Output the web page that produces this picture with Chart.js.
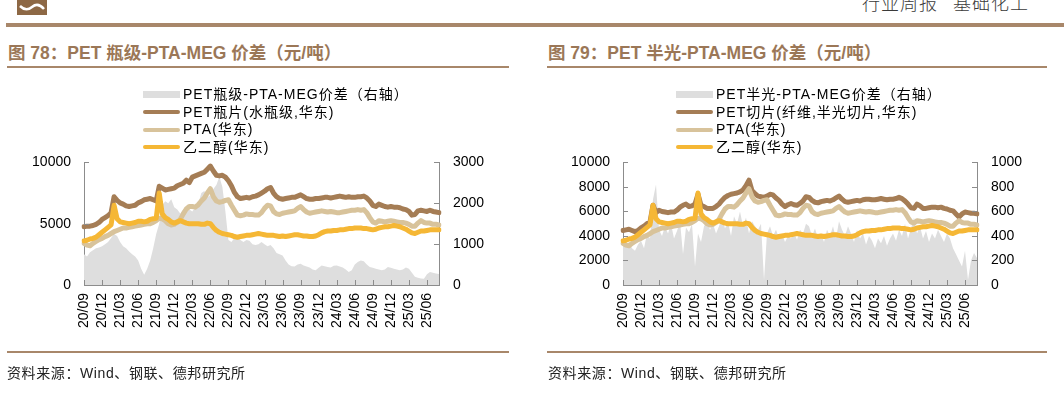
<!DOCTYPE html>
<html>
<head>
<meta charset="utf-8">
<script src="https://cdn.jsdelivr.net/npm/chart.js@4.4.1/dist/chart.umd.min.js"></script>
<style>
  body { margin: 0; width: 1064px; height: 393px; position: relative; overflow: hidden; background: #fff;
         font-family: "Liberation Sans", Arial, "Noto Sans CJK SC", sans-serif; color: #000; }
  .abs { position: absolute; }
  .rule { position: absolute; background: #a8876a; }
  .title { position: absolute; top: 39px; font-size: 17.5px; font-weight: bold; color: #9b7757; white-space: nowrap; }
  .source { position: absolute; top: 362px; font-size: 14px; letter-spacing: 0.6px; color: #222; white-space: nowrap; }
  .legend { position: absolute; top: 86px; font-size: 14px; letter-spacing: 1px; }
  .legend .row { height: 17.5px; line-height: 17.5px; white-space: nowrap; display: flex; align-items: center; }
  .legend .sw { width: 37px; margin-right: 3px; flex: none; }
  canvas { position: absolute; }
</style>
</head>
<body>

<!-- page header -->
<svg class="abs" style="left:17px;top:0" width="30" height="15">
  <rect width="30" height="15" fill="#8d6845"/>
  <path d="M3 6 Q9 12 15 7 T27 9" stroke="#fff" stroke-width="2.5" fill="none"/>
</svg>
<div class="abs" style="left:862px;top:-7px;font-size:18px;line-height:18px;color:#3a3a3a;letter-spacing:1px;font-family:'Noto Sans CJK SC';font-weight:300">行业周报&nbsp;&nbsp;&nbsp;基础化工</div>
<div class="rule" style="left:6px;top:23px;width:1058px;height:4px"></div>

<!-- titles -->
<div class="title" style="left:8px">图 78：PET 瓶级-PTA-MEG 价差（元/吨）</div>
<div class="rule" style="left:7px;top:66px;width:502px;height:2px"></div>
<div class="title" style="left:548px">图 79：PET 半光-PTA-MEG 价差（元/吨）</div>
<div class="rule" style="left:547px;top:66px;width:500px;height:2px"></div>

<canvas id="c78" width="530" height="215" style="left:0;top:140px"></canvas>
<canvas id="c79" width="534" height="215" style="left:530px;top:140px"></canvas>
<div class="legend" id="lg78" style="left:143px"></div>
<div class="legend" id="lg79" style="left:676px"></div>

<!-- footers -->
<div class="rule" style="left:7px;top:351px;width:502px;height:2px"></div>
<div class="source" style="left:7px">资料来源：Wind、钢联、德邦研究所</div>
<div class="rule" style="left:547px;top:351px;width:500px;height:2px"></div>
<div class="source" style="left:548px">资料来源：Wind、钢联、德邦研究所</div>

<script>
// half-month observations, 2020/09 上半月 .. 2025/09 上半月
const TICK_LABELS = ["20/09","20/12","21/03","21/06","21/09","21/12","22/03","22/06","22/09","22/12",
                     "23/03","23/06","23/09","23/12","24/03","24/06","24/09","24/12","25/03","25/06"];

// PTA(华东), 元/吨 (same series in both charts)
const PTA_EAST = [
  3400,3250,3200,3400,3550,3700,3800,3950,4050,4200,
  4350,4450,4550,4650,4650,4700,4750,4800,4850,4900,
  4950,5000,5000,5100,5250,5450,5400,5250,5000,4900,
  4950,5100,5350,5800,6200,6400,6400,6350,6550,6850,
  7100,7500,7850,7200,6850,6750,6800,6900,6950,6500,
  6100,5700,5650,5700,5800,5750,5750,5700,5700,5900,
  6250,6500,6450,6000,5800,5750,5850,5900,5950,6000,
  6050,6250,6400,6150,5950,5850,5900,5950,6000,6050,
  6000,5950,6000,5950,5900,5900,5950,6000,6050,6100,
  6100,6150,6100,6150,5900,5500,5150,5050,5250,5200,
  5150,5200,5250,5200,5150,5100,5100,5050,4950,4800,
  4800,5050,5250,5100,5050,5050,4950,4950,4900
];

// 乙二醇(华东), 元/吨 (same series in both charts)
const MEG_EAST = [
  3600,3650,3750,3800,3900,4100,4300,4500,4700,4900,
  6500,5400,5150,5100,5050,5000,5050,5100,5200,5200,
  5150,5200,5350,5400,5450,7500,5800,5500,5350,5150,
  5050,5150,5250,5150,5050,5000,5000,5000,5000,4950,
  4950,5050,5000,4700,4450,4300,4200,4150,4100,4050,
  3950,3900,3950,4000,4050,4050,4100,4150,4200,4150,
  4100,4050,4050,4050,4000,3950,4000,3950,4000,4050,
  4100,4100,4050,4000,4000,3950,3950,4000,4100,4250,
  4350,4400,4400,4450,4450,4500,4500,4550,4600,4600,
  4650,4650,4650,4600,4600,4550,4500,4550,4650,4700,
  4750,4750,4800,4850,4800,4750,4650,4550,4400,4250,
  4200,4300,4400,4400,4450,4500,4500,4500,4500
];

// PET瓶片(水瓶级,华东), 元/吨
const PET_BOTTLE = [
  4750,4800,4800,4850,4950,5100,5350,5500,5650,5900,
  7200,6900,6700,6600,6450,6400,6450,6500,6700,6800,
  6950,7000,7050,6950,6850,8050,7900,7750,7800,7850,
  7900,8100,8200,8300,8550,8350,8800,8900,9000,9100,
  9200,9450,9700,9300,8950,8900,8950,8800,8500,8100,
  7550,7200,7050,7100,7150,7100,7200,7250,7350,7500,
  7650,7850,7950,7500,7200,7050,7000,7050,7100,7150,
  7150,7250,7350,7200,7050,7000,7000,7050,7050,7100,
  7150,7150,7100,7150,7200,7250,7200,7150,7200,7150,
  7150,7200,7200,7250,7100,6850,6500,6400,6600,6500,
  6400,6350,6400,6350,6350,6300,6200,6150,6000,5700,
  5750,6050,6100,6050,6000,6100,6000,5950,5900
];

// PET瓶级-PTA-MEG价差, 元/吨 (右轴)
const SPREAD_BOTTLE = [
  750,700,800,850,900,920,950,1000,1050,1150,
  1250,1200,1050,950,900,820,750,700,600,400,
  250,400,600,900,1250,1500,1950,2050,2000,2100,
  1900,1850,1750,1850,1900,1850,1800,1900,2000,2250,
  2300,2150,2200,2350,2450,2650,2400,1800,1100,1050,
  1150,1200,1100,1050,1100,1080,1000,980,1000,1050,
  1000,950,980,900,780,750,720,600,500,460,
  450,500,520,480,450,430,380,360,420,480,
  460,440,430,470,480,450,430,380,320,360,
  500,560,600,580,500,440,420,400,380,360,
  380,440,420,400,380,360,380,430,400,300,
  200,180,160,150,260,320,300,280,270
];

// PET切片(纤维,半光切片,华东), 元/吨
const PET_CHIP = [
  4450,4500,4550,4450,4350,4450,4650,4800,5000,5150,
  6500,5900,6100,6000,5950,5900,5950,5950,6100,6350,
  6500,6600,6400,6450,6600,7400,6500,6400,6250,6250,
  6250,6400,6600,6900,7150,7300,7400,7450,7500,7600,
  7750,8100,8550,7700,7450,7250,7200,7150,7250,7400,
  7350,7100,6900,6600,6400,6550,6650,6550,6500,6650,
  6850,7200,7150,6900,6750,6700,6800,6850,6900,6850,
  6950,7100,7250,7000,6800,6750,6800,6850,6900,6850,
  6950,7000,7000,6950,6950,7000,7050,7000,6950,7000,
  7000,7050,7150,7050,6850,6600,6300,6250,6600,6450,
  6250,6250,6300,6350,6350,6300,6350,6250,6200,6100,
  6050,5800,5550,5800,5950,5900,5850,5850,5800
];

// PET半光-PTA-MEG价差, 元/吨 (右轴)
const SPREAD_CHIP = [
  380,320,350,300,280,330,360,300,420,380,
  700,820,450,400,480,420,500,380,440,520,
  250,470,430,500,150,420,350,480,520,450,
  500,420,480,550,460,520,400,560,500,600,
  480,550,420,520,480,450,500,40,420,480,
  400,450,380,420,350,400,380,430,370,450,
  420,500,480,400,460,380,420,350,450,400,
  480,380,520,450,400,480,420,350,450,380,
  420,330,400,360,300,380,340,400,320,380,
  420,360,450,400,500,380,460,550,420,480,
  380,440,350,420,380,450,400,350,420,380,
  300,250,200,150,280,40,200,260,220
];

// category labels: one per half month
const CATEGORIES = PTA_EAST.map((_, i) => {
  const mm = 8 + Math.floor(i / 2);
  const yy = 20 + Math.floor(mm / 12);
  return yy + "/" + String(mm % 12 + 1).padStart(2, "0") + (i % 2 ? "下" : "上");
});

const C_PET = "#a57d55", C_PTA = "#d8c39b", C_MEG = "#f5b735", C_AREA = "#dedede", C_AXIS = "#8c8c8c";
const FONT = { family: "'Liberation Sans', Arial, sans-serif", size: 14 };

function quarterLabel(cat) {
  const m = cat.slice(0, 5);
  return cat.endsWith("上") && TICK_LABELS.includes(m) ? m : "";
}

// inward tick marks like the original
const innerTicks = {
  id: "innerTicks",
  afterDatasetsDraw(chart) {
    const { ctx, scales: { x, y, y1 } } = chart;
    ctx.save();
    ctx.strokeStyle = C_AXIS;
    ctx.lineWidth = 1;
    ctx.beginPath();
    x.ticks.forEach((t, i) => {
      if (!quarterLabel(chart.data.labels[t.value])) return;
      const px = Math.round(x.getPixelForTick(i)) + 0.5;
      ctx.moveTo(px, x.top); ctx.lineTo(px, x.top - 5);
    });
    y.ticks.forEach((t, i) => {
      const py = Math.round(y.getPixelForTick(i)) + 0.5;
      ctx.moveTo(y.right, py); ctx.lineTo(y.right + 5, py);
    });
    y1.ticks.forEach((t, i) => {
      const py = Math.round(y1.getPixelForTick(i)) + 0.5;
      ctx.moveTo(y1.left, py); ctx.lineTo(y1.left - 5, py);
    });
    ctx.stroke();
    ctx.restore();
  }
};

function lineSet(label, data, color, order) {
  return { label, data, borderColor: color, backgroundColor: color, borderWidth: 5,
           pointRadius: 0, tension: 0, yAxisID: "y", order, borderCapStyle: "round", borderJoinStyle: "round" };
}

function makeChart(id, legendId, opts) {
  const chart = new Chart(document.getElementById(id), {
    type: "line",
    data: {
      labels: CATEGORIES,
      datasets: [
        { label: opts.areaLabel, data: opts.area, yAxisID: "y1", fill: "origin", borderWidth: 0,
          backgroundColor: C_AREA, pointRadius: 0, tension: 0, order: 10 },
        lineSet(opts.petLabel, opts.pet, C_PET, 3),
        lineSet("PTA(华东)", PTA_EAST, C_PTA, 2),
        lineSet("乙二醇(华东)", MEG_EAST, C_MEG, 1)
      ]
    },
    options: {
      responsive: false, animation: false, devicePixelRatio: 1,
      layout: { padding: { top: opts.padTop, left: 0, right: 0, bottom: 0 } },
      plugins: { legend: { display: false }, tooltip: { enabled: false } },
      scales: {
        x: {
          type: "category", offset: false,
          grid: { display: false, drawTicks: false },
          border: { display: true, color: C_AXIS, width: 1 },
          ticks: { autoSkip: false, minRotation: 90, maxRotation: 90, padding: 8, color: "#000", font: FONT,
                   callback(v) { return quarterLabel(this.getLabelForValue(v)); } },
          afterFit(s) { s.height = 70; }
        },
        y: {
          position: "left", min: 0, max: opts.leftMax,
          grid: { display: false, drawTicks: false },
          border: { display: true, color: C_AXIS, width: 1 },
          ticks: { stepSize: opts.leftStep, padding: 13, color: "#000", font: FONT, callback: v => String(v) },
          afterFit(s) { s.width = opts.leftW; }
        },
        y1: {
          position: "right", min: 0, max: opts.rightMax,
          grid: { display: false, drawTicks: false },
          border: { display: true, color: C_AXIS, width: 1 },
          ticks: { stepSize: opts.rightStep, padding: 14, color: "#000", font: FONT, callback: v => String(v) },
          afterFit(s) { s.width = opts.rightW; }
        }
      }
    },
    plugins: [innerTicks]
  });

  // legend in one left-aligned column
  const lg = document.getElementById(legendId);
  chart.data.datasets.forEach(ds => {
    const row = document.createElement("div");
    row.className = "row";
    const sw = document.createElement("div");
    sw.className = "sw";
    if (ds.fill) { sw.style.height = "7px"; sw.style.background = ds.backgroundColor; }
    else { sw.style.height = "4px"; sw.style.borderRadius = "2px"; sw.style.background = ds.borderColor; }
    row.appendChild(sw);
    row.appendChild(document.createTextNode(ds.label));
    lg.appendChild(row);
  });
  return chart;
}

makeChart("c78", "lg78", {
  areaLabel: "PET瓶级-PTA-MEG价差（右轴）", area: SPREAD_BOTTLE,
  petLabel: "PET瓶片(水瓶级,华东)", pet: PET_BOTTLE,
  leftMax: 10000, leftStep: 5000, rightMax: 3000, rightStep: 1000,
  padTop: 21, leftW: 84, rightW: 91
});

makeChart("c79", "lg79", {
  areaLabel: "PET半光-PTA-MEG价差（右轴）", area: SPREAD_CHIP,
  petLabel: "PET切片(纤维,半光切片,华东)", pet: PET_CHIP,
  leftMax: 10000, leftStep: 2000, rightMax: 1000, rightStep: 200,
  padTop: 17, leftW: 93, rightW: 87
});
</script>
</body>
</html>
